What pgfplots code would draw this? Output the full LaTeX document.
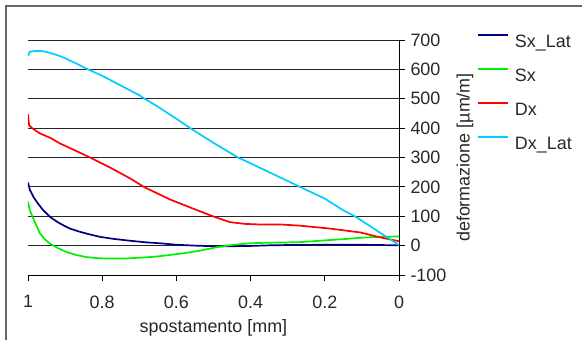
\documentclass[border=0pt]{standalone}
\usepackage{pgfplots}
\pgfplotsset{compat=1.18}
\usepackage{fontspec}
\setmainfont{Liberation Sans}
\definecolor{cSxLat}{RGB}{0,0,128}
\definecolor{cSx}{RGB}{0,240,0}
\definecolor{cDx}{RGB}{255,0,0}
\definecolor{cDxLat}{RGB}{0,204,255}
\definecolor{txt}{RGB}{40,40,40}
\newcommand{\ls}{\rule[-5bp]{0pt}{19bp}}
\begin{document}
\begin{tikzpicture}
\useasboundingbox (0,0) rectangle (582bp,-340bp);
\draw[line width=1.3bp, black!60] (6bp,-341bp) -- (6bp,-6bp) -- (583bp,-6bp);
\begin{axis}[
  at={(28bp,-275bp)}, anchor=south west,
  scale only axis, width=371bp, height=235bp,
  x dir=reverse,
  xmin=0, xmax=1, ymin=-100, ymax=700,
  enlargelimits=false,
  axis x line*=bottom, axis y line*=right,
  axis line style={black, line width=0.9bp},
  xtick={0,0.2,0.4,0.6,0.8,1},
  ytick={-100,0,100,200,300,400,500,600,700},
  tick align=outside, major tick length=6bp,
  tick style={black, line width=0.9bp},
  ymajorgrids, grid style={black!85, line width=0.9bp},
  /pgf/number format/assume math mode=true,
  font=\fontsize{18}{21}\selectfont,
  tick label style={font=\fontsize{18}{21}\selectfont, text=txt},
  xticklabel style={yshift=-11bp},
  yticklabel style={xshift=2bp},
  xlabel={spostamento [mm]},
  ylabel={deformazione [µm/m]},
  xlabel style={at={(axis description cs:0.5,-0.225)}, anchor=center, text=txt},
  ylabel style={at={(axis description cs:1.178,0.5)}, anchor=center, rotate=0, text=txt},
  legend style={at={(axis description cs:1.2096,1.03)}, anchor=north west,
    draw=none, fill=none, inner sep=0pt, row sep=18.5bp, column sep=6bp,
    font=\fontsize{18}{21}\selectfont,
    nodes={inner sep=0pt, text=txt}},
  legend cell align=left,
  legend image code/.code={\draw[#1, line width=2bp] (0bp,6bp) -- (30bp,6bp);},
  every axis plot/.append style={line width=1.7bp},
]
\addplot[cSxLat] coordinates {(1,215)(0.995,190)(0.985,165)(0.973,143)(0.96,122)(0.94,97)(0.92,80)(0.9,66)(0.887,58)(0.86,47)(0.83,37)(0.806,30)(0.77,23)(0.72,16)(0.68,11)(0.644,8)(0.6,3)(0.55,0)(0.5,-2)(0.45,-2)(0.4,-1)(0.35,1)(0.3,2)(0.2,3)(0.1,3)(0.05,2)(0,1)};
\addlegendentry{\ls Sx\_Lat}
\addplot[cSx] coordinates {(1,150)(0.995,120)(0.985,90)(0.975,62)(0.968,42)(0.955,22)(0.94,6)(0.92,-8)(0.896,-22)(0.87,-32)(0.842,-39)(0.81,-43)(0.779,-44)(0.74,-44)(0.698,-41)(0.66,-38)(0.626,-33)(0.58,-26)(0.536,-17)(0.49,-5)(0.45,2)(0.404,8)(0.35,10)(0.3,11)(0.267,12)(0.23,15)(0.2,18)(0.15,22)(0.1,27)(0.05,30)(0,31)};
\addlegendentry{\ls Sx}
\addplot[cDx] coordinates {(1,447)(0.997,410)(0.989,400)(0.968,382)(0.94,367)(0.914,348)(0.873,324)(0.833,300)(0.779,266)(0.725,229)(0.685,198)(0.617,157)(0.563,130)(0.5,99)(0.456,80)(0.415,74)(0.375,72)(0.32,72)(0.267,68)(0.186,58)(0.105,45)(0.05,28)(0,15)};
\addlegendentry{\ls Dx}
\addplot[cDxLat] coordinates {(1,645)(0.995,660)(0.98,663)(0.96,662)(0.94,656)(0.92,648)(0.9,638)(0.87,620)(0.838,600)(0.8,578)(0.75,545)(0.7,512)(0.685,500)(0.65,473)(0.6,432)(0.563,400)(0.5,350)(0.434,300)(0.4,280)(0.35,250)(0.3,220)(0.267,200)(0.2,160)(0.15,120)(0.119,100)(0.08,68)(0.04,35)(0,2)};
\addlegendentry{\ls Dx\_Lat}
\end{axis}
\end{tikzpicture}
\end{document}
